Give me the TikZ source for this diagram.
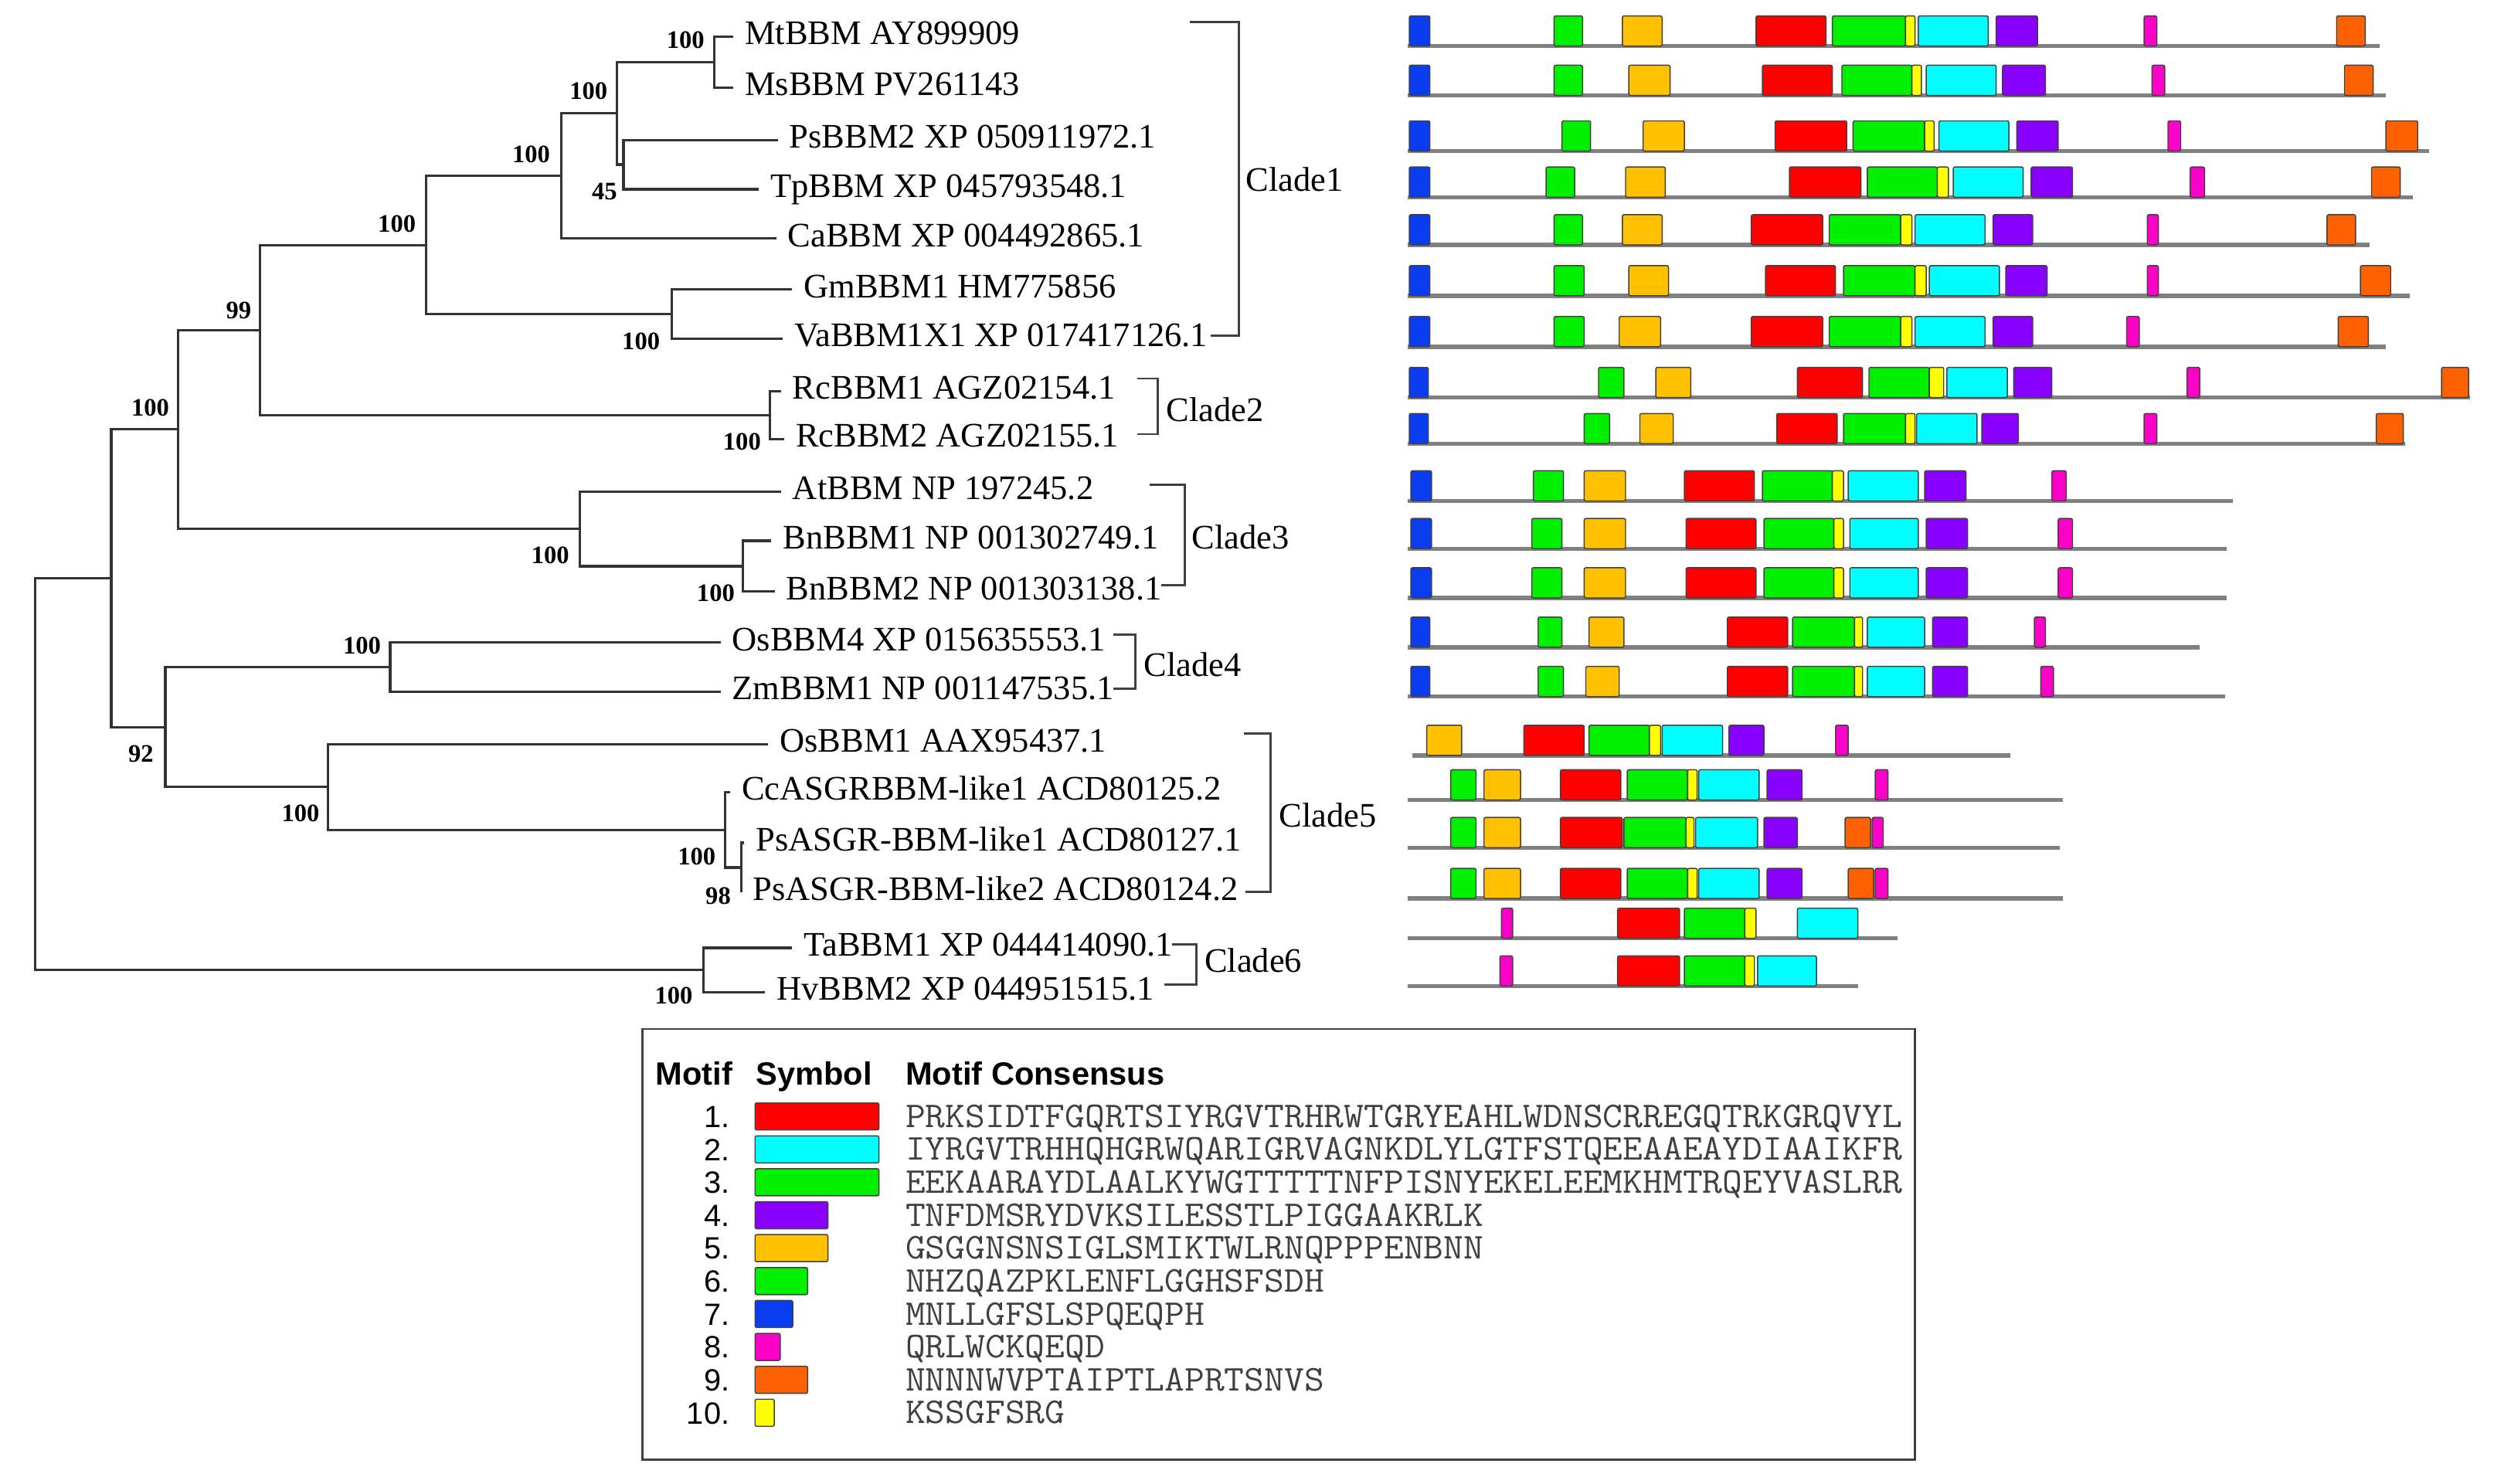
\documentclass[tikz,border=0pt]{standalone}
\usepackage{fontspec}
\setmainfont{Liberation Serif}
\setsansfont{Liberation Sans}
\usepackage{tikz}

\definecolor{m1}{HTML}{FF0000}
\definecolor{m2}{HTML}{00FFFF}
\definecolor{m3}{HTML}{00F000}
\definecolor{m4}{HTML}{8A00FF}
\definecolor{m5}{HTML}{FFC000}
\definecolor{m6}{HTML}{00F000}
\definecolor{m7}{HTML}{0A3CF0}
\definecolor{m8}{HTML}{FF00C8}
\definecolor{m9}{HTML}{FF6000}
\definecolor{m10}{HTML}{FFFF00}

\begin{document}
\begin{tikzpicture}[x=0.2mm, y=-0.2mm,
	tree/.style={draw=black!80, line width=0.9pt},
	leaf/.style={anchor=west, inner xsep=1.4mm, inner ysep=0pt, text height=8.2pt, text depth=2.5pt, font=\fontsize{12.3}{14}\selectfont},
	boot/.style={inner sep=0pt, text height=6.1pt, text depth=0pt, font=\fontsize{9}{10}\selectfont\bfseries},
	clade/.style={anchor=west, inner sep=0pt, text height=8.2pt, text depth=0pt, font=\fontsize{12.3}{14}\selectfont},
	cladebar/.style={draw=black!75, line width=0.8pt},
	gene/.style={draw=black!50, line width=1.5pt},
	motif/.style={draw=black!75, line width=0.4pt, rounded corners=0.6pt},
	leghead/.style={anchor=west, inner sep=0pt, text height=8.2pt, text depth=0pt, font=\sffamily\fontsize{11.5}{13}\selectfont\bfseries},
	legnum/.style={anchor=east, inner sep=0pt, text height=7.9pt, text depth=0pt, font=\sffamily\fontsize{11}{12}\selectfont},
	legseq/.style={anchor=west, inner sep=0pt, text height=7.8pt, text depth=0pt, color=black!75, font=\ttfamily\fontsize{13}{14}\selectfont}]
		\useasboundingbox (0,0) rectangle (1568,933);

		% tree leaves
		\node[leaf] (mt) at (461,23) {MtBBM AY899909};
		\node[leaf] (ms) at (461,55) {MsBBM PV261143};
		\node[leaf] (ps2) at (489,88) {PsBBM2 XP 050911972.1};
		\node[leaf] (tp) at (477,119) {TpBBM XP 045793548.1};
		\node[leaf] (ca) at (488,150) {CaBBM XP 004492865.1};
		\node[leaf] (gm) at (498,182) {GmBBM1 HM775856};
		\node[leaf] (va) at (492,213) {VaBBM1X1 XP 017417126.1};
		\node[leaf] (rc1) at (491,246) {RcBBM1 AGZ02154.1};
		\node[leaf] (rc2) at (493,276) {RcBBM2 AGZ02155.1};
		\node[leaf] (at) at (491,309) {AtBBM NP 197245.2};
		\node[leaf] (bn1) at (485,340) {BnBBM1 NP 001302749.1};
		\node[leaf] (bn2) at (487,372) {BnBBM2 NP 001303138.1};
		\node[leaf] (os4) at (453,404) {OsBBM4 XP 015635553.1};
		\node[leaf] (zm) at (453,435) {ZmBBM1 NP 001147535.1};
		\node[leaf] (os1) at (483,468) {OsBBM1 AAX95437.1};
		\node[leaf] (cc) at (459,498) {CcASGRBBM-like1 ACD80125.2};
		\node[leaf] (psl1) at (468,530) {PsASGR-BBM-like1 ACD80127.1};
		\node[leaf] (psl2) at (466,561) {PsASGR-BBM-like2 ACD80124.2};
		\node[leaf] (ta) at (498,596) {TaBBM1 XP 044414090.1};
		\node[leaf] (hv) at (481,624) {HvBBM2 XP 044951515.1};

		% inner nodes
		\coordinate (nMM) at (449,39);
		\coordinate (nPT) at (392,103.5);
		\coordinate (nA) at (388,71.25);
		\coordinate (nB) at (353,110.6);
		\coordinate (nGV) at (422.5,197.5);
		\coordinate (nC) at (268,154.1);
		\coordinate (nRc) at (484,261);
		\coordinate (nD) at (163.5,207.5);
		\coordinate (nBn) at (467,356);
		\coordinate (nG) at (364.6,332.5);
		\coordinate (nE) at (112,270);
		\coordinate (nOZ) at (245.3,419.5);
		\coordinate (nK) at (466,545.5);
		\coordinate (nJ) at (456,521.75);
		\coordinate (nI) at (206.2,494.9);
		\coordinate (nH) at (104,457.2);
		\coordinate (nF) at (70,363.6);
		\coordinate (nL) at (442.3,610);
		\coordinate (nR) at (22,486.8);

		\foreach \p/\c in {nMM/mt.west, nMM/ms.west, nPT/ps2.west, nPT/tp.west, nA/nMM, nA/nPT,
			nB/nA, nB/ca.west, nGV/gm.west, nGV/va.west, nC/nB, nC/nGV, nRc/rc1.west, nRc/rc2.west,
			nD/nC, nD/nRc, nBn/bn1.west, nBn/bn2.west, nG/at.west, nG/nBn, nE/nD, nE/nG,
			nOZ/os4.west, nOZ/zm.west, nK/psl1.west, nK/psl2.west, nJ/cc.west, nJ/nK,
			nI/os1.west, nI/nJ, nH/nOZ, nH/nI, nF/nE, nF/nH, nL/ta.west, nL/hv.west, nR/nF, nR/nL}
			\draw[tree] (\p) |- (\c);

		% bootstrap values
		\node[boot] (b1) at (431,25) {100};
		\node[boot] (b2) at (370,57) {100};
		\node[boot] (b3) at (380,120) {45};
		\node[boot] (b4) at (334,97) {100};
		\node[boot] (b5) at (249.5,140.5) {100};
		\node[boot] (b6) at (150,195) {99};
		\node[boot] (b7) at (403,214.5) {100};
		\node[boot] (b8) at (94.5,256) {100};
		\node[boot] (b9) at (466.5,277.5) {100};
		\node[boot] (b10) at (346,349) {100};
		\node[boot] (b11) at (450,373) {100};
		\node[boot] (b12) at (227.6,405.7) {100};
		\node[boot] (b13) at (88.6,473.6) {92};
		\node[boot] (b14) at (189,511) {100};
		\node[boot] (b15) at (438,538.6) {100};
		\node[boot] (b16) at (451.5,563) {98};
		\node[boot] (b17) at (423.6,626) {100};

		% clades
		\draw[cladebar] (748,14) -| (779,211) -- (761,211);
		\node[clade] (cl1) at (783,113) {Clade1};
		\draw[cladebar] (715,238) -| (728,273) -- (715,273);
		\node[clade] (cl2) at (733,258) {Clade2};
		\draw[cladebar] (723,305) -| (745,368) -- (730,368);
		\node[clade] (cl3) at (749,338) {Clade3};
		\draw[cladebar] (700,399) -| (714,433) -- (700,433);
		\node[clade] (cl4) at (719,418) {Clade4};
		\draw[cladebar] (782,461) -| (799,561) -- (783,561);
		\node[clade] (cl5) at (804,513) {Clade5};
		\draw[cladebar] (737,594) -| (752,619) -- (732,619);
		\node[clade] (cl6) at (757,604) {Clade6};

		% motif maps
		\draw[gene] (885,29) -- (1496,29);
		\foreach \m/\a/\b in {7/886/899,6/977/995,5/1020/1045,1/1104/1148,3/1152/1198,10/1198/1204,2/1206/1250,4/1255/1281,8/1348/1356,9/1469/1487}
			\draw[motif,fill=m\m] (\a,29) rectangle (\b,10);
		\draw[gene] (885,60) -- (1500,60);
		\foreach \m/\a/\b in {7/886/899,6/977/995,5/1024/1050,1/1108/1152,3/1158/1202,10/1202/1208,2/1211/1255,4/1259/1286,8/1353/1361,9/1474/1492}
			\draw[motif,fill=m\m] (\a,60) rectangle (\b,41);
		\draw[gene] (885,95) -- (1527,95);
		\foreach \m/\a/\b in {7/886/899,6/982/1000,5/1033/1059,1/1116/1161,3/1165/1210,10/1210/1216,2/1219/1263,4/1268/1294,8/1363/1371,9/1500/1520}
			\draw[motif,fill=m\m] (\a,95) rectangle (\b,76);
		\draw[gene] (885,124) -- (1517,124);
		\foreach \m/\a/\b in {7/886/899,6/972/990,5/1022/1047,1/1125/1170,3/1174/1218,10/1218/1225,2/1228/1272,4/1277/1303,8/1377/1386,9/1491/1509}
			\draw[motif,fill=m\m] (\a,124) rectangle (\b,105);
		\draw[gene] (885,154) -- (1490,154);
		\foreach \m/\a/\b in {7/886/899,6/977/995,5/1020/1045,1/1101/1146,3/1150/1195,10/1195/1202,2/1204/1248,4/1253/1278,8/1350/1357,9/1463/1481}
			\draw[motif,fill=m\m] (\a,154) rectangle (\b,135);
		\draw[gene] (885,186) -- (1515,186);
		\foreach \m/\a/\b in {7/886/899,6/977/996,5/1024/1049,1/1110/1154,3/1159/1204,10/1204/1211,2/1213/1257,4/1261/1287,8/1350/1357,9/1484/1503}
			\draw[motif,fill=m\m] (\a,186) rectangle (\b,167);
		\draw[gene] (885,218) -- (1500,218);
		\foreach \m/\a/\b in {7/886/899,6/977/996,5/1018/1044,1/1101/1146,3/1150/1195,10/1195/1202,2/1204/1248,4/1253/1278,8/1337/1345,9/1470/1489}
			\draw[motif,fill=m\m] (\a,218) rectangle (\b,199);
		\draw[gene] (885,250) -- (1553,250);
		\foreach \m/\a/\b in {7/886/898,6/1005/1021,5/1041/1063,1/1130/1171,3/1175/1213,10/1213/1222,2/1224/1262,4/1266/1290,8/1375/1383,9/1535/1552}
			\draw[motif,fill=m\m] (\a,250) rectangle (\b,231);
		\draw[gene] (885,279) -- (1512,279);
		\foreach \m/\a/\b in {7/886/898,6/996/1012,5/1031/1052,1/1117/1155,3/1159/1198,10/1198/1204,2/1205/1243,4/1246/1269,8/1348/1356,9/1494/1511}
			\draw[motif,fill=m\m] (\a,279) rectangle (\b,260);
		\draw[gene] (885,315) -- (1404,315);
		\foreach \m/\a/\b in {7/887/900,6/964/983,5/996/1022,1/1059/1103,3/1108/1152,10/1152/1159,2/1162/1206,4/1210/1236,8/1290/1299}
			\draw[motif,fill=m\m] (\a,315) rectangle (\b,296);
		\draw[gene] (885,345) -- (1400,345);
		\foreach \m/\a/\b in {7/887/900,6/963/982,5/996/1022,1/1060/1104,3/1109/1153,10/1153/1159,2/1163/1206,4/1211/1237,8/1294/1303}
			\draw[motif,fill=m\m] (\a,345) rectangle (\b,326);
		\draw[gene] (885,376) -- (1400,376);
		\foreach \m/\a/\b in {7/887/900,6/963/982,5/996/1022,1/1060/1104,3/1109/1153,10/1153/1159,2/1163/1206,4/1211/1237,8/1294/1303}
			\draw[motif,fill=m\m] (\a,376) rectangle (\b,357);
		\draw[gene] (885,407) -- (1383,407);
		\foreach \m/\a/\b in {7/887/899,6/967/982,5/999/1021,1/1086/1124,3/1127/1166,10/1166/1171,2/1174/1210,4/1215/1237,8/1279/1286}
			\draw[motif,fill=m\m] (\a,407) rectangle (\b,388);
		\draw[gene] (885,438) -- (1399,438);
		\foreach \m/\a/\b in {7/887/899,6/967/983,5/997/1018,1/1086/1124,3/1127/1166,10/1166/1171,2/1174/1210,4/1215/1237,8/1283/1291}
			\draw[motif,fill=m\m] (\a,438) rectangle (\b,419);
		\draw[gene] (888,475) -- (1264,475);
		\foreach \m/\a/\b in {5/897/919,1/958/996,3/999/1037,10/1037/1044,2/1045/1083,4/1087/1109,8/1154/1162}
			\draw[motif,fill=m\m] (\a,475) rectangle (\b,456);
		\draw[gene] (885,503) -- (1297,503);
		\foreach \m/\a/\b in {6/912/928,5/933/956,1/981/1019,3/1023/1061,10/1061/1067,2/1068/1106,4/1111/1133,8/1179/1187}
			\draw[motif,fill=m\m] (\a,503) rectangle (\b,484);
		\draw[gene] (885,533) -- (1295,533);
		\foreach \m/\a/\b in {6/912/928,5/933/956,1/981/1020,3/1021/1060,10/1060/1065,2/1066/1105,4/1109/1130,9/1160/1176,8/1177/1184}
			\draw[motif,fill=m\m] (\a,533) rectangle (\b,514);
		\draw[gene] (885,565) -- (1297,565);
		\foreach \m/\a/\b in {6/912/928,5/933/956,1/981/1019,3/1023/1061,10/1061/1067,2/1068/1106,4/1111/1133,9/1162/1178,8/1179/1187}
			\draw[motif,fill=m\m] (\a,565) rectangle (\b,546);
		\draw[gene] (885,590) -- (1193,590);
		\foreach \m/\a/\b in {8/944/951,1/1017/1056,3/1059/1097,10/1097/1104,2/1130/1168}
			\draw[motif,fill=m\m] (\a,590) rectangle (\b,571);
		\draw[gene] (885,620) -- (1168,620);
		\foreach \m/\a/\b in {8/943/951,1/1017/1056,3/1059/1097,10/1097/1103,2/1105/1142}
			\draw[motif,fill=m\m] (\a,620) rectangle (\b,601);

		% legend
		\draw[draw=black!75, line width=0.8pt] (404,647) rectangle (1204,918);
		\node[leghead] (hmotif) at (412,675) {Motif};
		\node[leghead] (hsym) at (475,675) {Symbol};
		\node[leghead] (hcons) at (569,675) {Motif Consensus};
		\foreach \i/\w/\s in {1/552.6/PRKSIDTFGQRTSIYRGVTRHRWTGRYEAHLWDNSCRREGQTRKGRQVYL,
			2/552.6/IYRGVTRHHQHGRWQARIGRVAGNKDLYLGTFSTQEEAAEAYDIAAIKFR,
			3/552.6/EEKAARAYDLAALKYWGTTTTTNFPISNYEKELEEMKHMTRQEYVASLRR,
			4/520.5/TNFDMSRYDVKSILESSTLPIGGAAKRLK,
			5/520.5/GSGGNSNSIGLSMIKTWLRNQPPPENBNN,
			6/507.8/NHZQAZPKLENFLGGHSFSDH,
			7/498.4/MNLLGFSLSPQEQPH,
			8/490.5/QRLWCKQEQD,
			9/507.8/NNNNWVPTAIPTLAPRTSNVS,
			10/486.8/KSSGFSRG} {
			\pgfmathsetmacro\yy{702+20.7*(\i-1)}
			\node[legnum] (num\i) at (459,\yy) {\i.};
			\draw[motif,fill=m\i] (474.7,\yy-8.5) rectangle (\w,\yy+8.5);
			\node[legseq] (seq\i) at (569,\yy) {\scalebox{1.065}[1]{\s}};
		}
	\end{tikzpicture}
\end{document}
